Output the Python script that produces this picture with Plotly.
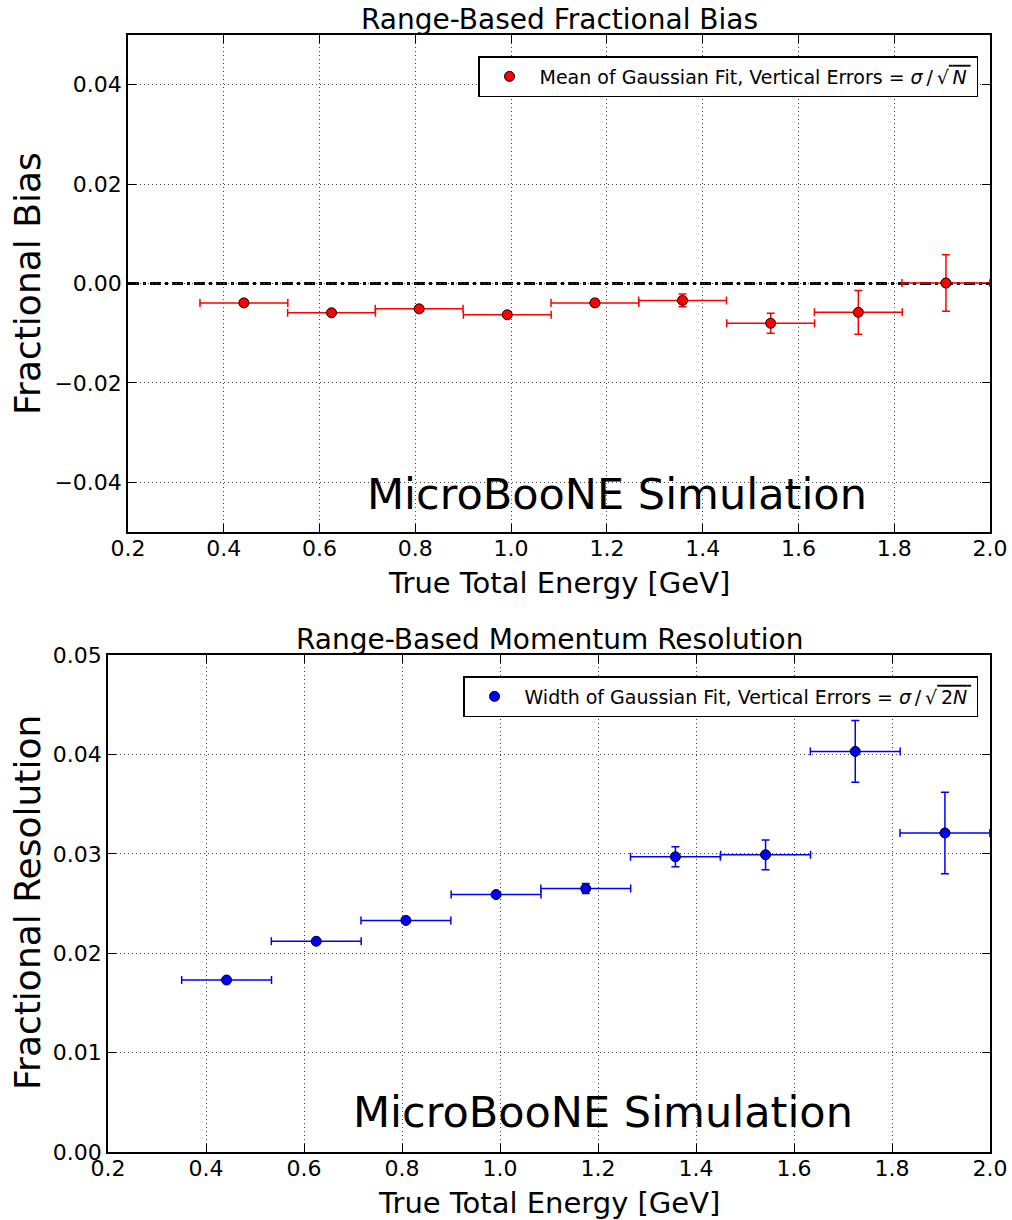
import plotly.graph_objects as go

# ---- data ----
energy = [0.442, 0.625, 0.808, 0.992, 1.175, 1.358, 1.542, 1.725, 1.908]
energy_halfwidth = [0.0917] * 9

bias = [-0.0039, -0.0059, -0.0051, -0.0063, -0.0039, -0.0034, -0.0080, -0.0058, 0.0001]
bias_err = [0.0003, 0.0003, 0.0003, 0.0003, 0.0007, 0.0013, 0.0020, 0.0044, 0.0057]

resolution = [0.0173, 0.0212, 0.0233, 0.0259, 0.0265, 0.0297, 0.0299, 0.0403, 0.0321]
resolution_err = [0.0002, 0.0002, 0.0002, 0.0002, 0.0005, 0.0010, 0.0015, 0.0031, 0.0041]

x_ticks = [0.2, 0.4, 0.6, 0.8, 1.0, 1.2, 1.4, 1.6, 1.8, 2.0]
bias_ticks = [-0.04, -0.02, 0.0, 0.02, 0.04]
res_ticks = [0.0, 0.01, 0.02, 0.03, 0.04, 0.05]

FONT = "DejaVu Sans"
W, H = 1012, 1220
TS = "\u2009"  # thin space

fig = go.Figure()

fig.add_trace(go.Scatter(
    x=energy, y=bias, mode="markers",
    name=f"Mean of Gaussian Fit, Vertical Errors = <i>σ</i>{TS}/{TS}√<span style='text-decoration:overline'>{TS}<i>N</i>{TS}</span>",
    marker=dict(color="red", size=10, line=dict(color="black", width=1)),
    error_x=dict(type="data", array=energy_halfwidth, color="red", thickness=1.5, width=4),
    error_y=dict(type="data", array=bias_err, color="red", thickness=1.5, width=4),
    xaxis="x", yaxis="y", legend="legend",
))
fig.add_trace(go.Scatter(
    x=energy, y=resolution, mode="markers",
    name=f"Width of Gaussian Fit, Vertical Errors = <i>σ</i>{TS}/{TS}√<span style='text-decoration:overline'>{TS}2<i>N</i>{TS}</span>",
    marker=dict(color="blue", size=10, line=dict(color="black", width=1)),
    error_x=dict(type="data", array=energy_halfwidth, color="blue", thickness=1.5, width=4),
    error_y=dict(type="data", array=resolution_err, color="blue", thickness=1.5, width=4),
    xaxis="x2", yaxis="y2", legend="legend2",
))

fig.add_shape(type="line", xref="x domain", yref="y", x0=0, x1=1, y0=0, y1=0,
              line=dict(color="black", width=3, dash="11px,4px,3px,4px"), layer="below")

axis_common = dict(
    showline=True, linecolor="black", linewidth=1.5, mirror="ticks",
    ticks="inside", ticklen=8, tickwidth=1, tickcolor="black",
    showgrid=True, gridcolor="#444", gridwidth=1.2, griddash="1px,3px",
    zeroline=False, automargin=False,
    tickfont=dict(family=FONT, size=22, color="black"),
)

fig.update_layout(
    width=W, height=H,
    margin=dict(l=0, r=0, t=0, b=0),
    paper_bgcolor="white", plot_bgcolor="white",
    font=dict(family=FONT, color="black"),
    xaxis=dict(axis_common, domain=[128 / W, 990 / W], range=[0.2, 2.0],
               tickvals=x_ticks, tickformat=".1f", anchor="y", ticklabelstandoff=-4),
    yaxis=dict(axis_common, domain=[1 - 532 / H, 1 - 35 / H], range=[-0.05, 0.05],
               tickvals=bias_ticks, tickformat=".2f", anchor="x"),
    xaxis2=dict(axis_common, domain=[108 / W, 990 / W], range=[0.2, 2.0],
                tickvals=x_ticks, tickformat=".1f", anchor="y2", ticklabelstandoff=-4),
    yaxis2=dict(axis_common, domain=[1 - 1152 / H, 1 - 655 / H], range=[0.0, 0.05],
                tickvals=res_ticks, tickformat=".2f", anchor="x2"),
    legend=dict(x=978 / W, y=1 - 56 / H, xanchor="right", yanchor="top",
                bordercolor="black", borderwidth=1.5, bgcolor="white", itemwidth=50,
                font=dict(family=FONT, size=19, color="black")),
    legend2=dict(x=978 / W, y=1 - 676 / H, xanchor="right", yanchor="top",
                 bordercolor="black", borderwidth=1.5, bgcolor="white", itemwidth=50,
                 font=dict(family=FONT, size=19, color="black")),
    showlegend=True,
)

def paper_text(text, px, py, size, angle=0):
    fig.add_annotation(text=text, xref="paper", yref="paper", x=px / W, y=1 - py / H,
                       xanchor="center", yanchor="middle", showarrow=False, textangle=angle,
                       font=dict(family=FONT, size=size, color="black"))

paper_text("Range-Based Fractional Bias", 559, 19, 28)
paper_text("Range-Based Momentum Resolution", 549, 639, 28)
paper_text("True Total Energy [GeV]", 559, 583, 29)
paper_text("True Total Energy [GeV]", 549, 1203, 29)
paper_text("Fractional Bias", 27, 284, 36, -90)
paper_text("Fractional Resolution", 27, 903, 36, -90)
paper_text("MicroBooNE Simulation", 617, 494, 43)
paper_text("MicroBooNE Simulation", 603, 1112, 43)

fig.write_html("out.html", config={"displayModeBar": False},
               post_script="document.body.style.margin='0px';")
